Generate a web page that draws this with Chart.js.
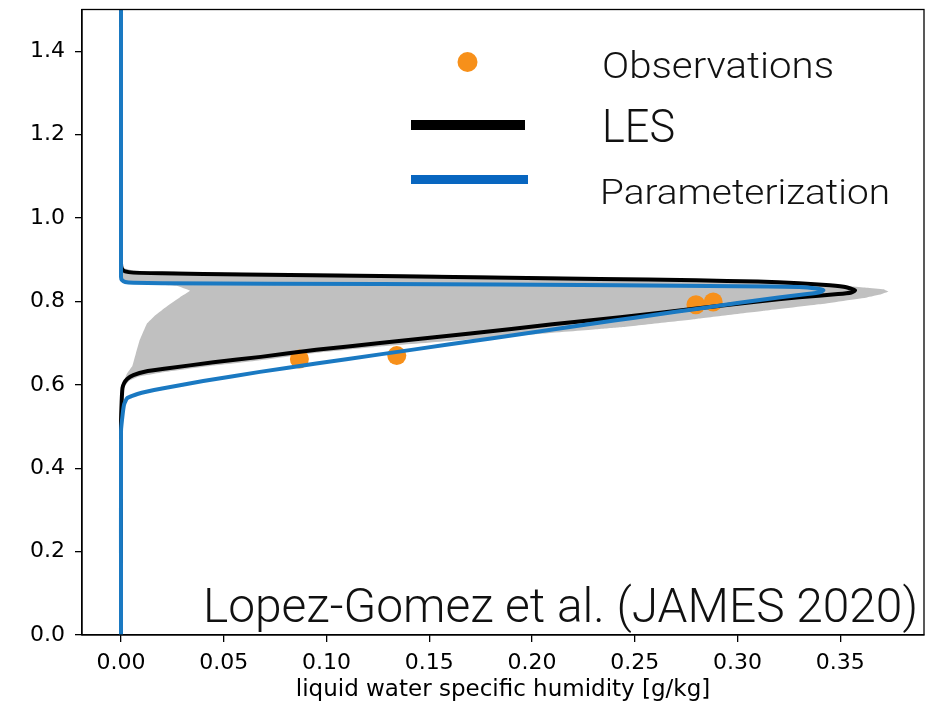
<!DOCTYPE html>
<html>
<head>
<meta charset="utf-8">
<script src="https://cdn.jsdelivr.net/npm/chart.js@4.4.1/dist/chart.umd.min.js"></script>
<style>
  html, body { margin: 0; padding: 0; background: #fff; }
  #wrap { width: 940px; height: 707px; }
</style>
</head>
<body>
<div id="wrap"><canvas id="chart" width="940" height="707"></canvas></div>
<script>
// 軸の目盛り
const xTickValues = [0, 0.05, 0.10, 0.15, 0.20, 0.25, 0.30, 0.35];
const yTickValues = [0, 0.2, 0.4, 0.6, 0.8, 1.0, 1.2, 1.4];

// LES (黒線)
const lesX = [0, 0, 0.0005, 0.002, 0.006, 0.02, 0.06, 0.126, 0.18, 0.233, 0.28, 0.31, 0.33, 0.345, 0.353, 0.3572, 0.3555, 0.349, 0.33, 0.31, 0.282, 0.243, 0.21, 0.17, 0.126, 0.095, 0.068, 0.045, 0.022, 0.012, 0.006, 0.003, 0.0015, 0.0007, 0.0003, 0, 0];
const lesY = [1.5, 0.89, 0.878, 0.872, 0.869, 0.8675, 0.8645, 0.861, 0.8575, 0.854, 0.8505, 0.8475, 0.8435, 0.8385, 0.834, 0.8265, 0.8215, 0.8175, 0.810, 0.800, 0.784, 0.762, 0.745, 0.723, 0.700, 0.684, 0.667, 0.654, 0.639, 0.632, 0.623, 0.614, 0.604, 0.592, 0.56, 0.51, 0];

// パラメタリゼーション (青線)
const paramX = [0, 0, 0.0005, 0.002, 0.006, 0.02, 0.126, 0.243, 0.3, 0.33, 0.3385, 0.3418, 0.3405, 0.334, 0.32, 0.30, 0.28, 0.26, 0.24, 0.2, 0.16, 0.126, 0.095, 0.0676, 0.04, 0.02, 0.008, 0.003, 0.0015, 0.0008, 0, 0];
const paramY = [1.5, 0.858, 0.851, 0.8465, 0.8445, 0.8435, 0.8415, 0.839, 0.8365, 0.8345, 0.831, 0.827, 0.8225, 0.8175, 0.8095, 0.796, 0.782, 0.768, 0.754, 0.7255, 0.697, 0.673, 0.651, 0.631, 0.609, 0.591, 0.578, 0.568, 0.553, 0.53, 0.49, 0];

// 観測
const obsX = [0.0868, 0.1342, 0.2798, 0.2882];
const obsY = [0.662, 0.670, 0.792, 0.7985];

// LESアンサンブルの範囲 (灰色)
const envHiX = [0, 0.0005, 0.0015, 0.004, 0.008, 0.022, 0.045, 0.068, 0.095, 0.126, 0.18, 0.233, 0.243, 0.28, 0.314, 0.34, 0.363, 0.370, 0.3735, 0.371, 0.363, 0.3465, 0.33, 0.29, 0.233, 0.126, 0.05, 0.015, 0.005, 0.001, 0];
const envHiY = [0.50, 0.575, 0.595, 0.610, 0.619, 0.631, 0.646, 0.659, 0.677, 0.692, 0.713, 0.734, 0.738, 0.758, 0.778, 0.793, 0.8095, 0.817, 0.8235, 0.829, 0.833, 0.8395, 0.8455, 0.851, 0.857, 0.8655, 0.869, 0.8715, 0.875, 0.88, 0.886];
const envLoX = [0, 0, 0.0028, 0.0055, 0.0072, 0.009, 0.0125, 0.0165, 0.0206, 0.0287, 0.0336, 0.0271, 0.01, 0.002, 0, 0];
const envLoY = [0.50, 0.59, 0.626, 0.645, 0.675, 0.706, 0.746, 0.766, 0.782, 0.810, 0.8255, 0.8375, 0.8425, 0.846, 0.86, 0.886];

const toPoints = (xs, ys) => xs.map((x, i) => ({x: x, y: ys[i]}));

const obsColor = '#f7901a';
const lesColor = '#000000';
const paramColor = '#1a79c2';
const legendBlue = '#0866c0';

// 枠線
const framePlugin = {
  id: 'frame',
  afterDraw(chart) {
    const {ctx, chartArea: a} = chart;
    ctx.save();
    ctx.strokeStyle = '#000';
    ctx.lineWidth = 1.3;
    ctx.strokeRect(a.left, a.top, a.right - a.left, a.bottom - a.top);
    ctx.restore();
  }
};

// 幅を合わせて文字を描く
function fitText(ctx, text, x, y, size, width, align) {
  ctx.font = '300 ' + size + 'px Roboto';
  const w = ctx.measureText(text).width;
  const sx = width / w;
  ctx.save();
  ctx.translate(align === 'right' ? x - width : x, y);
  ctx.scale(sx, 1);
  ctx.textAlign = 'left';
  ctx.fillText(text, 0, 0);
  ctx.restore();
}

// 凡例と注記
const notePlugin = {
  id: 'notes',
  afterDraw(chart) {
    const ctx = chart.ctx;
    const ds = chart.data.datasets;
    ctx.save();
    ctx.fillStyle = obsColor;
    ctx.beginPath();
    ctx.arc(467.5, 62, 10, 0, Math.PI * 2);
    ctx.fill();
    ctx.fillStyle = lesColor;
    ctx.fillRect(411, 120, 114, 10);
    ctx.fillStyle = legendBlue;
    ctx.fillRect(411, 175, 117, 9);

    ctx.fillStyle = '#111';
    ctx.textBaseline = 'alphabetic';
    fitText(ctx, ds[2].label, 602, 78, 36.5, 232);
    fitText(ctx, ds[1].label, 602, 142, 46, 73);
    fitText(ctx, ds[0].label, 600, 204, 35, 290);
    fitText(ctx, 'Lopez-Gomez et al. (JAMES 2020)', 918, 622, 48, 715, 'right');
    ctx.restore();
  }
};

const tickFont = {family: 'DejaVu Sans', size: 22};
const titleFont = {family: 'DejaVu Sans', size: 23};

new Chart(document.getElementById('chart'), {
  type: 'line',
  data: {
    datasets: [
      {
        label: 'Parameterization',
        data: toPoints(paramX, paramY),
        borderColor: paramColor,
        borderWidth: 4,
        pointRadius: 0,
        tension: 0.15,
        fill: false
      },
      {
        label: 'LES',
        data: toPoints(lesX, lesY),
        borderColor: lesColor,
        borderWidth: 4,
        pointRadius: 0,
        tension: 0.15,
        fill: false
      },
      {
        label: 'Observations',
        data: toPoints(obsX, obsY),
        showLine: false,
        pointRadius: 9.5,
        pointBackgroundColor: obsColor,
        pointBorderWidth: 0
      },
      {
        label: 'LES range',
        data: toPoints(envHiX, envHiY),
        borderWidth: 0,
        borderColor: 'rgba(0,0,0,0)',
        backgroundColor: '#c0c0c0',
        pointRadius: 0,
        tension: 0.05,
        fill: '+1'
      },
      {
        label: 'LES range low',
        data: toPoints(envLoX, envLoY),
        borderWidth: 0,
        borderColor: 'rgba(0,0,0,0)',
        pointRadius: 0,
        tension: 0.05,
        fill: false
      }
    ]
  },
  options: {
    indexAxis: 'y',
    responsive: false,
    animation: false,
    layout: {padding: {top: 8, right: 16, left: 0, bottom: 0}},
    plugins: {legend: {display: false}, tooltip: {enabled: false}},
    scales: {
      x: {
        type: 'linear',
        min: -0.019,
        max: 0.3908,
        afterBuildTicks: s => { s.ticks = xTickValues.map(v => ({value: v})); },
        afterFit: s => { s.height = 72; s.paddingLeft = 0; s.paddingRight = 0; },
        ticks: {font: tickFont, color: '#000', padding: 8, maxRotation: 0, callback: v => v.toFixed(2)},
        grid: {drawOnChartArea: false, drawTicks: true, tickLength: 7, color: '#000', lineWidth: 1.3},
        border: {display: true, color: '#000', width: 1.3},
        title: {display: true, text: 'liquid water specific humidity [g/kg]', font: titleFont, color: '#000', padding: {top: 0, bottom: 3}}
      },
      y: {
        type: 'linear',
        min: 0,
        max: 1.5,
        afterBuildTicks: s => { s.ticks = yTickValues.map(v => ({value: v})); },
        afterFit: s => { s.width = 82; s.paddingTop = 0; s.paddingBottom = 0; },
        ticks: {font: tickFont, color: '#000', padding: 10, callback: v => v.toFixed(1)},
        grid: {drawOnChartArea: false, drawTicks: true, tickLength: 7, color: '#000', lineWidth: 1.3},
        border: {display: true, color: '#000', width: 1.3}
      }
    }
  },
  plugins: [framePlugin, notePlugin]
});
</script>
</body>
</html>
